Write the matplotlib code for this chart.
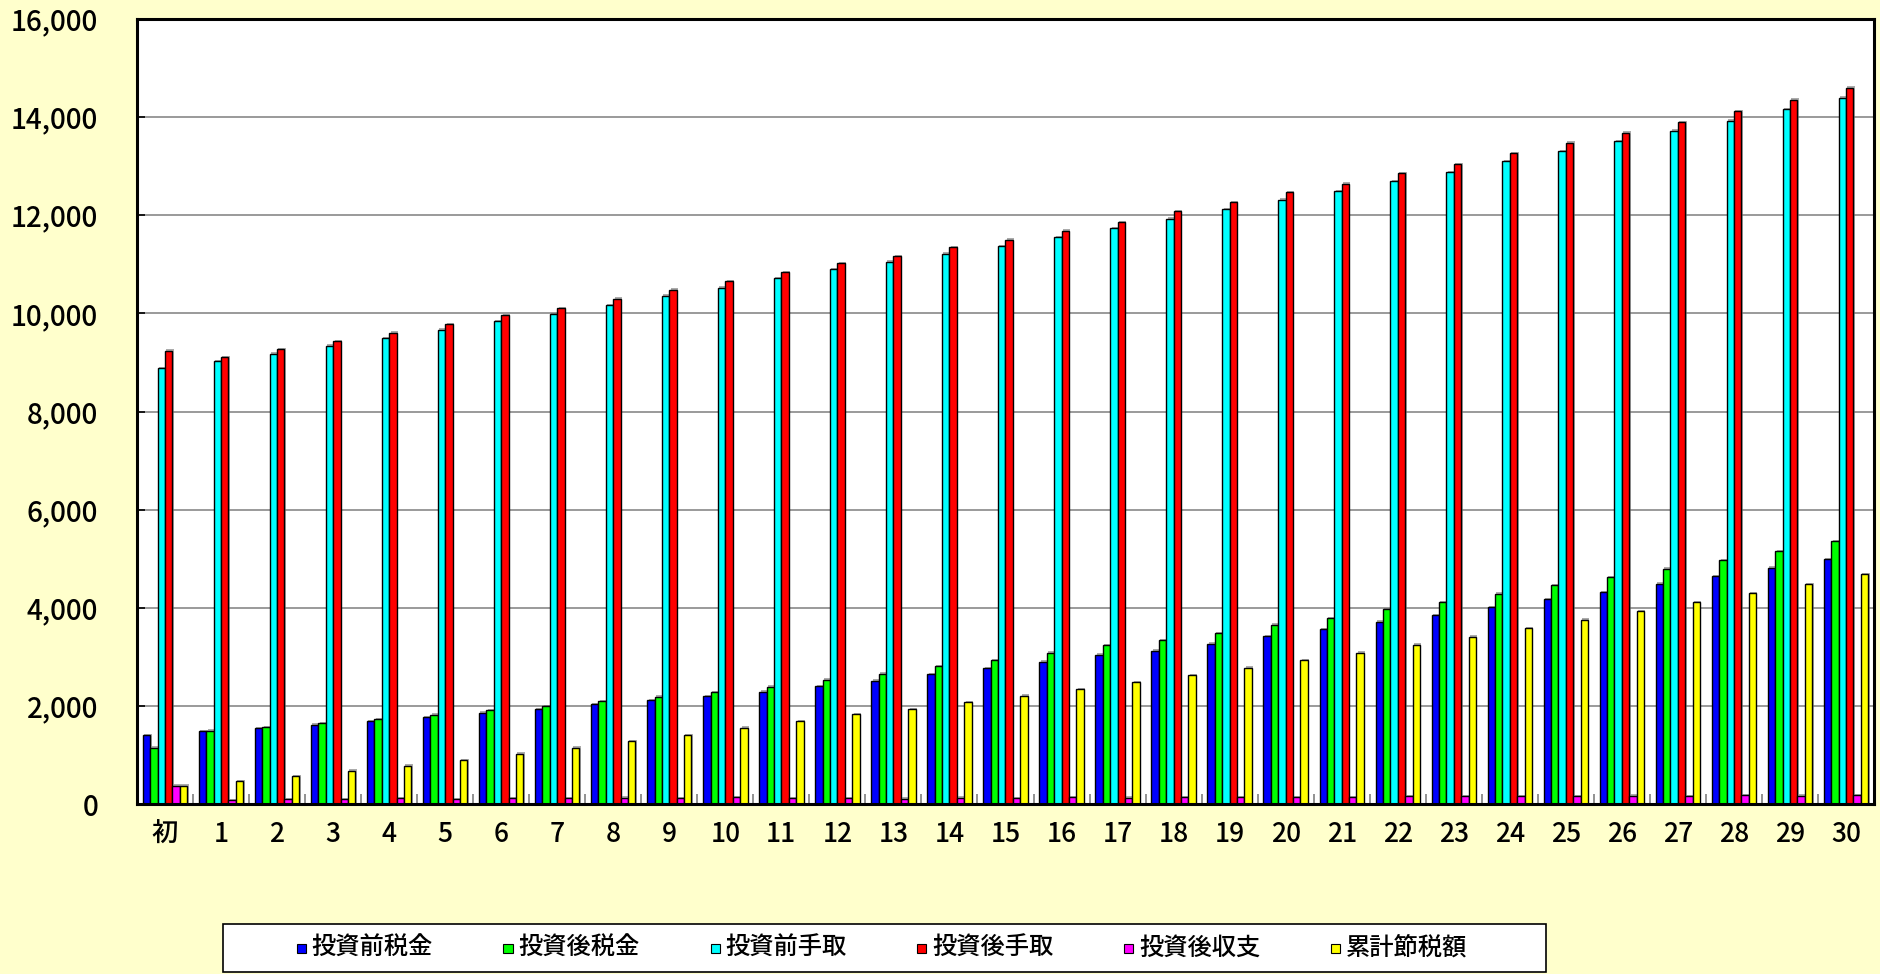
import matplotlib
matplotlib.use("Agg")
import matplotlib.pyplot as plt
import matplotlib.patheffects as pe
from matplotlib.patches import Rectangle
from matplotlib.ticker import FuncFormatter, FixedLocator
import numpy as np

plt.rcParams['font.family'] = ['Noto Sans CJK JP', 'DejaVu Sans']
plt.rcParams['font.weight'] = 'medium'

# categories (years)
years = ['初'] + [str(i) for i in range(1, 31)]

# series values
before_tax = [1404, 1479, 1540, 1615, 1683, 1772, 1860, 1935, 2031, 2112, 2201,
              2290, 2399, 2514, 2644, 2773, 2903, 3046, 3128, 3271, 3421,
              3557, 3714, 3843, 4007, 4170, 4320, 4490, 4640, 4817, 4995]
after_tax = [1145, 1492, 1567, 1642, 1724, 1819, 1908, 1990, 2092, 2187, 2283,
             2392, 2535, 2657, 2807, 2930, 3087, 3237, 3339, 3482, 3652,
             3789, 3966, 4109, 4286, 4456, 4620, 4797, 4974, 5151, 5356]
before_net = [8880, 9029, 9178, 9341, 9491, 9667, 9837, 9986, 10170, 10360, 10523,
              10713, 10896, 11052, 11215, 11372, 11548, 11731, 11928, 12125, 12315,
              12492, 12696, 12879, 13096, 13307, 13504, 13721, 13925, 14162, 14400]
after_net = [9240, 9110, 9273, 9436, 9606, 9776, 9959, 10109, 10299, 10482, 10659,
             10842, 11019, 11161, 11344, 11501, 11684, 11860, 12078, 12261, 12472,
             12641, 12859, 13042, 13266, 13476, 13680, 13897, 14122, 14352, 14597]
after_balance = [375, 82, 102, 102, 116, 102, 123, 123, 129, 123, 136,
                 123, 123, 109, 129, 123, 143, 129, 143, 136, 143,
                 143, 157, 157, 164, 157, 170, 164, 177, 170, 184]
cum_saving = [375, 470, 572, 681, 784, 899, 1022, 1145, 1274, 1404, 1554,
              1690, 1826, 1935, 2071, 2208, 2344, 2480, 2630, 2780, 2930,
              3080, 3250, 3407, 3584, 3755, 3932, 4109, 4300, 4484, 4688]

series_names = ['投資前税金', '投資後税金', '投資前手取', '投資後手取', '投資後収支', '累計節税額']
series_colors = ['#0000FF', '#00FF00', '#00FFFF', '#FF0000', '#FF00FF', '#FFFF00']
series = [before_tax, after_tax, before_net, after_net, after_balance, cum_saving]

W, H = 1881, 974
bg = '#FFFFCC'
fig = plt.figure(figsize=(W / 100, H / 100), dpi=100, facecolor=bg)
ax = fig.add_axes([137 / W, 1 - 804 / H, (1874 - 137) / W, (804 - 19) / H])
ax.set_facecolor('white')

x = np.arange(len(years))
bw = 0.132
shadow = [pe.withSimplePatchShadow(offset=(1, 1), shadow_rgbFace='0.45', alpha=0.6)]
for j, (vals, col) in enumerate(zip(series, series_colors)):
    ax.bar(x + (j - 2.5) * bw, vals, width=bw, color=col, edgecolor='black',
           linewidth=1.0, zorder=3, path_effects=shadow)

ax.set_xlim(-0.5, len(years) - 0.5)
ax.set_ylim(0, 16000)
ax.set_yticks(np.arange(0, 16001, 2000))
ax.yaxis.set_major_formatter(FuncFormatter(lambda v, p: f'{int(v):,}'))
ax.grid(axis='y', color='#7f7f7f', linewidth=1.1, zorder=1)
ax.tick_params(axis='y', direction='in', length=6, width=1.2, pad=28, labelsize=20)

ax.set_xticks(x)
ax.set_xticklabels(years)
ax.tick_params(axis='x', length=0, pad=12, labelsize=19)
ax.xaxis.set_minor_locator(FixedLocator(np.arange(0.5, len(years) - 1, 1.0)))
ax.tick_params(axis='x', which='minor', direction='in', length=7, width=1.2, color='#7f7f7f')

for s in ax.spines.values():
    s.set_linewidth(2.2)
    s.set_color('black')
    s.set_zorder(5)

# legend box drawn by hand to match the layout
fig.add_artist(Rectangle((223 / W, 1 - 972 / H), (1546 - 223) / W, (972 - 924) / H,
                         transform=fig.transFigure, facecolor='white',
                         edgecolor='black', linewidth=1.2))
ly = 1 - 948 / H
for k, (name, col) in enumerate(zip(series_names, series_colors)):
    mx = 301 + 207 * k
    fig.add_artist(Rectangle(((mx - 4.5) / W, ly - 4.5 / H), 9 / W, 9 / H,
                             transform=fig.transFigure, facecolor=col,
                             edgecolor='black', linewidth=0.8))
    fig.text((mx + 10) / W, ly, name, fontsize=17.5, va='center', ha='left')

fig.savefig('out.png', dpi=100, facecolor=bg)
